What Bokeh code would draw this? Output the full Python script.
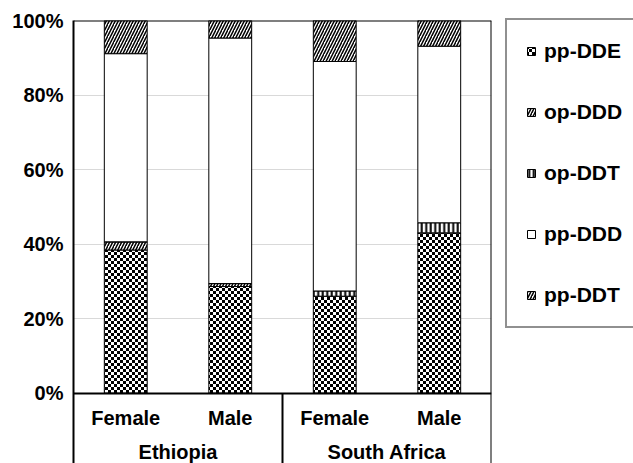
import base64, struct, zlib
from bokeh.plotting import figure
from bokeh.models import (FactorRange, Range1d, FixedTicker, PrintfTickFormatter,
                          CategoricalAxis, Legend, LegendItem, Span, ImageURLTexture,
                          ColumnDataSource)
from bokeh.embed import file_html
from bokeh.resources import INLINE

countries = ["Ethiopia", "Ethiopia", "South Africa", "South Africa"]
sexes = ["Female", "Male", "Female", "Male"]
pp_DDE = [38.4, 28.6, 26.0, 43.0]
op_DDD = [2.2, 0.8, 0.0, 0.0]
op_DDT = [0.0, 0.0, 1.4, 2.7]
pp_DDD = [50.5, 65.9, 61.6, 47.4]
pp_DDT = [8.9, 4.7, 11.0, 6.9]
y_ticks = [0, 20, 40, 60, 80, 100]

series = ["pp-DDE", "op-DDD", "op-DDT", "pp-DDD", "pp-DDT"]
factors = list(zip(countries, sexes))
country_groups = list(dict.fromkeys(countries))
data = {"x": factors, "pp-DDE": pp_DDE, "op-DDD": op_DDD, "op-DDT": op_DDT,
        "pp-DDD": pp_DDD, "pp-DDT": pp_DDT,
        # custom hatch name per row (looked up in hatch_extra)
        "checker_hatch": ["checker"] * len(factors)}
source = ColumnDataSource(data)

FONT = "Liberation Sans"


def checker_png(n=6, c=3):
    rows = b""
    for yy in range(n):
        rows += b"\x00"
        for xx in range(n):
            on = ((xx // c) + (yy // c)) % 2 == 0
            rows += bytes([0, 0, 0, 255]) if on else bytes([255, 255, 255, 255])

    def chunk(t, d):
        return struct.pack(">I", len(d)) + t + d + struct.pack(">I", zlib.crc32(t + d) & 0xffffffff)
    png = b"\x89PNG\r\n\x1a\n" + chunk(b"IHDR", struct.pack(">IIBBBBB", n, n, 8, 6, 0, 0, 0))
    png += chunk(b"IDAT", zlib.compress(rows)) + chunk(b"IEND", b"")
    return "data:image/png;base64," + base64.b64encode(png).decode()


checker = ImageURLTexture(url=checker_png())

x_range = FactorRange(*factors, factor_padding=0, group_padding=0, range_padding=0)
y_min = -18.9
p = figure(x_range=x_range, y_range=Range1d(y_min, 100),
           frame_width=418, frame_height=443,
           output_backend="svg", toolbar_location=None, x_axis_location=None,
           min_border_left=73, min_border_top=20, min_border_bottom=0,
           min_border_right=0)
p.extra_x_ranges = {"country": FactorRange(*country_groups, range_padding=0)}
p.outline_line_color = None
p.background_fill_color = "white"
p.border_fill_color = "white"

patterns = ["checker_hatch", "/", "|", " ", "/"]
scales = [6, 6, 4.5, 6, 6]
weights = [1, 1.5, 2, 1, 1.5]
renderers = p.vbar_stack(series, x="x", width=0.41, source=source,
                         fill_color="white", line_color="black", line_width=1,
                         hatch_pattern=patterns, hatch_scale=scales,
                         hatch_weight=weights, hatch_color="black",
                         hatch_extra={"checker": checker})

# y axis
yax = p.yaxis[0]
yax.ticker = FixedTicker(ticks=y_ticks)
yax.formatter = PrintfTickFormatter(format="%d%%")
yax.major_tick_line_color = None
yax.major_tick_out = 0
yax.major_tick_in = 0
yax.minor_tick_line_color = None
yax.axis_line_color = "black"
yax.axis_line_width = 2
yax.major_label_text_font = FONT
yax.major_label_text_font_style = "bold"
yax.major_label_text_font_size = "20px"
yax.major_label_text_color = "black"
yax.major_label_standoff = 10

p.xgrid.grid_line_color = None
p.ygrid.grid_line_color = "#d9d9d9"
p.ygrid.grid_line_width = 1
p.ygrid.ticker = FixedTicker(ticks=y_ticks)

# x axis (sex level) fixed at 0
xax = CategoricalAxis(fixed_location=0)
xax.axis_line_color = "black"
xax.axis_line_width = 2
xax.major_tick_line_color = None
xax.major_tick_out = 0
xax.major_tick_in = 0
xax.minor_tick_line_color = None
xax.major_label_text_font = FONT
xax.major_label_text_font_style = "bold"
xax.major_label_text_font_size = "20px"
xax.major_label_text_color = "black"
xax.major_label_standoff = 14
xax.group_text_color = None
xax.separator_line_color = None
p.add_layout(xax, "below")

# country level axis
cax = CategoricalAxis(x_range_name="country", fixed_location=0)
cax.axis_line_color = None
cax.major_tick_line_color = None
cax.major_tick_out = 0
cax.major_tick_in = 0
cax.minor_tick_line_color = None
cax.major_label_text_font = FONT
cax.major_label_text_font_style = "bold"
cax.major_label_text_font_size = "20px"
cax.major_label_text_color = "black"
cax.major_label_standoff = 48
p.add_layout(cax, "below")

# frame lines
p.add_layout(Span(location=100, dimension="width", line_color="black", line_width=2))
p.add_layout(Span(location=len(factors), dimension="height", line_color="black", line_width=2))
sep_x = [countries.count(country_groups[0])]
p.segment(x0=sep_x, y0=[y_min], x1=sep_x, y1=[0], line_color="black", line_width=2)

items = [LegendItem(label=s, renderers=[r]) for s, r in zip(series, renderers)]
legend = Legend(items=items, location=(14, 135))
legend.label_text_font = FONT
legend.label_text_font_style = "bold"
legend.label_text_font_size = "21px"
legend.label_text_color = "black"
legend.label_height = 20
legend.glyph_width = 10
legend.glyph_height = 10
legend.label_standoff = 8
legend.spacing = 37
legend.padding = 19
legend.margin = 0
legend.border_line_color = "#222222"
legend.border_line_width = 2
legend.background_fill_alpha = 1
p.add_layout(legend, "right")

open("out.html", "w").write(file_html(p, INLINE))
